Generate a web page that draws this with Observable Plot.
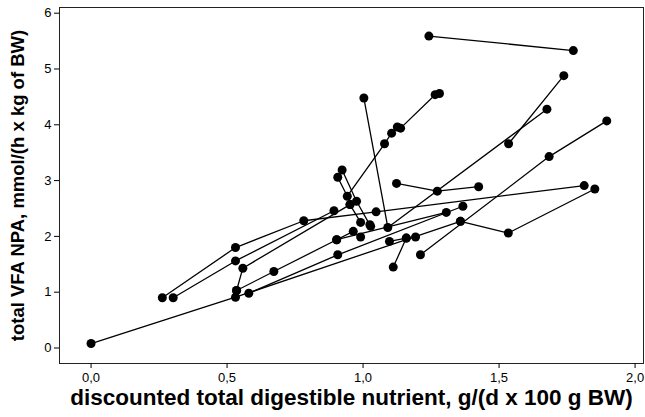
<!DOCTYPE html>
<html><head><meta charset="utf-8">
<script src="https://cdn.jsdelivr.net/npm/d3@7"></script>
<script src="https://cdn.jsdelivr.net/npm/@observablehq/plot@0.6"></script>
<style>
body{margin:0;background:#fff;}
svg{font-family:"Liberation Sans Narrow","Liberation Sans",Arial,sans-serif;}
g[aria-label="x-axis label"] text{font-family:"Liberation Sans",Arial,sans-serif;font-size:22.5px;font-weight:bold;fill:#000;}
g[aria-label="y-axis label"] text{font-family:"Liberation Sans",Arial,sans-serif;font-size:18.5px;font-weight:bold;fill:#000;}
</style></head><body><div id="chart"></div>
<script>
// each group = one connected sequence of measurements
const group = [
  1,1,
  2,2,
  3,3,3,
  4,4,4,
  5,5,5,
  6,6,6,
  7,7,7,
  8,8,8,
  9,9,9,9,9,9,9,9,
  10,10,10,
  11,11,
  12,12,12,12,12,
  13,13,13,
  14,14,14,
  15,15,15,15,
  16,16,16,
  17,17,
  18,18
];
const xVal = [
  1.242,1.773,
  1.738,1.535,
  1.003,1.091,1.676,
  1.123,1.273,1.425,
  1.896,1.684,1.211,
  1.852,1.534,1.358,
  0.000,0.531,1.358,
  1.097,1.159,1.193,
  0.907,0.942,1.079,1.105,1.126,1.138,1.265,1.281,
  0.923,0.976,1.028,
  0.952,0.991,
  0.262,0.531,0.782,1.048,1.813,
  0.302,0.531,0.893,
  0.535,0.558,0.952,
  0.535,0.672,0.903,1.306,
  0.580,0.907,1.367,
  0.903,0.964,
  1.111,1.159
];
const yVal = [
  5.59,5.33,
  4.88,3.66,
  4.48,2.16,4.28,
  2.95,2.81,2.89,
  4.07,3.43,1.67,
  2.85,2.06,2.27,
  0.08,0.91,2.27,
  1.91,1.97,1.99,
  3.06,2.72,3.66,3.85,3.96,3.94,4.54,4.56,
  3.19,2.63,2.18,
  2.57,2.25,
  0.90,1.80,2.28,2.44,2.91,
  0.90,1.56,2.46,
  1.03,1.43,2.57,
  1.03,1.37,1.94,2.43,
  0.98,1.67,2.54,
  1.94,2.09,
  1.45,1.97
];
const aloneX = [0.991,1.025];
const aloneY = [1.99,2.21];
const xTicks = [0,0.5,1,1.5,2];
const yTicks = [0,1,2,3,4,5,6];

const data = group.map((g,i)=>({g, x:xVal[i], y:yVal[i]}));
const alone = aloneX.map((x,i)=>({x, y:aloneY[i]}));
const fmt = d => d.toFixed(1).replace(".", ",");

const plot = Plot.plot({
  width:645, height:417,
  marginLeft:59, marginRight:2, marginTop:7, marginBottom:54,
  style:{fontSize:"12px", color:"#000"},
  x:{domain:[-0.116,2.031]},
  y:{domain:[-0.278,6.102]},
  marks:[
    Plot.frame({stroke:"#222"}),
    Plot.axisX({ticks:xTicks, tickFormat:fmt, tickSize:5, tickPadding:4, label:"discounted total digestible nutrient, g/(d x 100 g BW)", labelAnchor:"center", labelArrow:"none", labelOffset:41, fontSize:13}),
    Plot.axisY({ticks:yTicks, tickFormat:d=>String(d), tickSize:5, tickPadding:3, label:"total VFA NPA, mmol/(h x kg of BW)", labelAnchor:"center", labelOffset:49, labelArrow:"none", fontSize:13}),
    Plot.line(data,{x:"x", y:"y", z:"g", stroke:"#000", strokeWidth:1.3}),
    Plot.dot(data,{x:"x", y:"y", r:4.5, fill:"#000", stroke:"none"}),
    Plot.dot(alone,{x:"x", y:"y", r:4.5, fill:"#000", stroke:"none"})
  ]
});
document.getElementById("chart").appendChild(plot);
</script></body></html>
